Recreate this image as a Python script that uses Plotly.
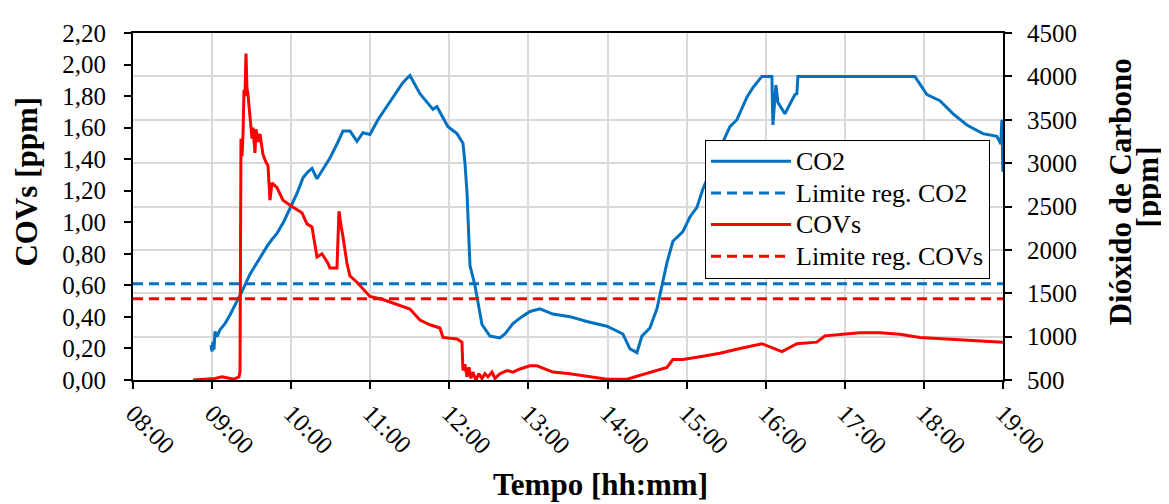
import pandas as pd
import plotly.graph_objects as go

# ---------------- data ----------------
co2_time = ["08:59:10", "09:00:00", "09:00:40", "09:01:26", "09:02:12", "09:03:43", "09:06:00",
            "09:09:47", "09:13:34", "09:18:08", "09:23:26", "09:28:44", "09:34:00", "09:37:50",
            "09:41:38", "09:45:26", "09:49:13", "09:54:32", "09:59:05", "10:04:24", "10:08:57",
            "10:12:44", "10:15:46", "10:19:34", "10:24:07", "10:29:25", "10:34:44", "10:39:17",
            "10:44:36", "10:47:38", "10:49:54", "10:54:27", "10:59:45", "11:05:50", "11:12:40",
            "11:20:15", "11:24:48", "11:30:06", "11:37:41", "11:47:33", "11:50:35", "11:58:56",
            "12:05:46", "12:10:19", "12:11:50", "12:13:21", "12:15:38", "12:19:25", "12:24:44",
            "12:30:48", "12:38:23", "12:42:10", "12:48:14", "12:55:04", "13:01:08", "13:08:43",
            "13:18:34", "13:31:28", "13:44:22", "13:59:32", "14:11:40", "14:16:58", "14:22:17",
            "14:26:04", "14:32:08", "14:37:27", "14:42:00", "14:45:02", "14:49:35", "14:57:10",
            "15:02:29", "15:07:48", "15:12:20", "15:19:10", "15:26:45", "15:32:50", "15:38:08",
            "15:45:43", "15:50:16", "15:57:06", "16:04:41", "16:05:26", "16:07:43", "16:09:14",
            "16:14:32", "16:22:08", "16:23:39", "16:24:24", "17:53:07", "18:02:17", "18:12:08",
            "18:21:58", "18:32:35", "18:44:43", "18:55:20", "18:58:22", "18:59:08", "18:59:53"]
co2_ppm = [900, 830, 940, 850, 1060, 1000, 1080,
           1150, 1250, 1380, 1545, 1720, 1850, 1960,
           2040, 2120, 2190, 2330, 2470, 2650, 2830,
           2900, 2940, 2820, 2930, 3060, 3220, 3370,
           3370, 3300, 3250, 3350, 3330, 3500, 3650,
           3820, 3930, 4010, 3800, 3620, 3650, 3420,
           3340, 3230, 3000, 2670, 1820, 1590, 1140,
           1006, 985, 1030, 1150, 1230, 1290, 1320,
           1260, 1230, 1175, 1120, 1030, 860, 815,
           1006, 1100, 1320, 1620, 1850, 2100, 2210,
           2380, 2490, 2700, 2950, 3220, 3420, 3500,
           3760, 3870, 4000, 4000, 3440, 3900, 3700,
           3570, 3790, 3800, 4000, 4000, 3790, 3720,
           3570, 3440, 3340, 3310, 3220, 3500, 2900]

cov_time = ["08:45:30", "08:54:37", "09:02:12", "09:07:30", "09:12:04", "09:16:36", "09:20:24",
            "09:21:10", "09:21:55", "09:22:40", "09:23:26", "09:24:12", "09:24:57", "09:25:43",
            "09:26:28", "09:27:14", "09:28:45", "09:30:16", "09:31:01", "09:32:32", "09:33:18",
            "09:34:49", "09:36:20", "09:38:36", "09:40:53", "09:42:24", "09:43:55", "09:45:26",
            "09:49:13", "09:53:46", "10:00:36", "10:08:11", "10:11:58", "10:15:46", "10:19:34",
            "10:23:21", "10:27:54", "10:29:25", "10:34:44", "10:36:15", "10:37:46", "10:39:17",
            "10:42:19", "10:44:36", "10:49:54", "10:54:27", "10:59:45", "11:09:37", "11:20:15",
            "11:30:06", "11:37:41", "11:45:16", "11:52:51", "11:55:08", "12:05:46", "12:09:33",
            "12:10:19", "12:11:50", "12:13:21", "12:14:52", "12:16:22", "12:17:53", "12:20:10",
            "12:22:27", "12:24:44", "12:27:00", "12:29:17", "12:32:19", "12:34:35", "12:38:23",
            "12:43:41", "12:48:14", "12:53:33", "13:01:08", "13:06:27", "13:18:34", "13:31:28",
            "13:44:22", "13:59:32", "14:14:42", "14:24:33", "14:34:25", "14:45:02", "14:49:35",
            "14:57:10", "15:12:20", "15:25:14", "15:40:24", "15:57:06", "16:12:16", "16:23:39",
            "16:38:49", "16:44:53", "16:58:32", "17:11:26", "17:26:36", "17:41:46", "17:56:56",
            "18:17:25", "18:37:08", "18:59:53"]
cov_ppm = [0.00, 0.005, 0.01, 0.02, 0.01, 0.005, 0.02,
           0.05, 1.53, 1.42, 1.55, 1.84, 1.80, 2.07,
           1.85, 1.81, 1.67, 1.53, 1.60, 1.44, 1.59,
           1.51, 1.56, 1.43, 1.38, 1.36, 1.14, 1.25,
           1.22, 1.14, 1.10, 1.06, 0.99, 0.97, 0.78,
           0.80, 0.74, 0.71, 0.71, 1.07, 0.98, 0.91,
           0.74, 0.66, 0.62, 0.58, 0.53, 0.51, 0.48,
           0.45, 0.38, 0.35, 0.33, 0.27, 0.26, 0.24,
           0.06, 0.10, 0.02, 0.08, 0.01, 0.05, 0.00,
           0.04, 0.01, 0.04, 0.02, 0.05, 0.01, 0.04,
           0.06, 0.05, 0.07, 0.09, 0.09, 0.05, 0.04,
           0.025, 0.005, 0.005, 0.03, 0.05, 0.08, 0.13,
           0.13, 0.15, 0.17, 0.20, 0.23, 0.18, 0.23,
           0.24, 0.28, 0.29, 0.30, 0.30, 0.29, 0.27,
           0.26, 0.25, 0.24]

co2_limit = 1610      # ppm
cov_limit = 0.515     # ppm

x_range = ["08:00", "19:00"]

series_names = ["CO2", "Limite reg. CO2", "COVs", "Limite reg. COVs"]
x_title = "Tempo [hh:mm]"
y_left_title = "COVs [ppm]"
y_right_title = ["Dióxido de Carbono", "[ppm]"]

# ---------------- figure ----------------
DAY = "2000-01-01 "
def t(lst):
    return pd.to_datetime([DAY + s for s in lst])

BLUE = "#0070C0"
RED = "#FF0000"
FONT = "Liberation Serif"

# plot area in window pixels: x 133..1003, y 25..380 (page body has an 8px margin)
PX0, PX1, PY0, PY1 = 133, 1003, 25, 380
PW, PH = PX1 - PX0, PY1 - PY0
OFF = 8
def px(x):
    return (x - PX0) / PW
def py(y):
    return (PY1 - y) / PH

def leg(name):
    return '<span style="font-size:26px">' + name + "</span>"

fig = go.Figure()
fig.add_trace(go.Scatter(x=t(co2_time), y=co2_ppm, name=leg(series_names[0]), mode="lines",
                         line=dict(color=BLUE, width=3), yaxis="y"))
fig.add_trace(go.Scatter(x=t(x_range), y=[co2_limit, co2_limit], name=leg(series_names[1]), mode="lines",
                         line=dict(color=BLUE, width=3, dash="10px,6px"), yaxis="y"))
fig.add_trace(go.Scatter(x=t(cov_time), y=cov_ppm, name=leg(series_names[2]), mode="lines",
                         line=dict(color=RED, width=3), yaxis="y2"))
fig.add_trace(go.Scatter(x=t(x_range), y=[cov_limit, cov_limit], name=leg(series_names[3]), mode="lines",
                         line=dict(color=RED, width=3, dash="10px,6px"), yaxis="y2"))

axis_font = dict(family=FONT, size=25, color="black")
W, H = 1169 - OFF, 504 - OFF

fig.update_layout(
    width=W, height=H,
    margin=dict(l=PX0 - OFF, r=W - (PX1 - OFF), t=PY0 - OFF, b=H - (PY1 - OFF), pad=0),
    paper_bgcolor="white", plot_bgcolor="white",
    separators=",.",
    font=dict(family=FONT, color="black"),
    showlegend=True,
    legend=dict(x=px(705), y=py(134), xanchor="left", yanchor="top",
                bgcolor="white", bordercolor="black", borderwidth=1,
                font=dict(family=FONT, size=22, color="black"),
                itemwidth=80, tracegroupgap=0),
    xaxis=dict(type="date", range=list(t(x_range)), tickformat="%H:%M",
               dtick=3600000, tick0=t(x_range)[0], tickangle=45,
               showgrid=True, gridcolor="#d9d9d9", gridwidth=1.5,
               showline=True, linecolor="black", linewidth=2, mirror=True,
               ticks="outside", ticklen=7, tickcolor="black", tickwidth=1.5,
               tickfont=axis_font, ticklabelstandoff=0),
    yaxis=dict(side="right", range=[500, 4500], dtick=500, tickformat="d",
               showgrid=True, gridcolor="#d9d9d9", gridwidth=1.5, zeroline=False,
               showline=True, linecolor="black", linewidth=2,
               ticks="outside", ticklen=7, tickcolor="black", tickwidth=1.5,
               tickfont=axis_font, ticklabelstandoff=10),
    yaxis2=dict(overlaying="y", side="left", range=[0, 2.2], dtick=0.2, tickformat=".2f",
                showgrid=False, zeroline=False,
                showline=True, linecolor="black", linewidth=2,
                ticks="outside", ticklen=7, tickcolor="black", tickwidth=1.5,
                tickfont=axis_font, ticklabelstandoff=13),
)

title_font = dict(family=FONT, size=31, color="black")
fig.add_annotation(text="<b>" + x_title + "</b>", xref="paper", yref="paper",
                   x=px(600), y=py(487), xanchor="center", yanchor="middle",
                   showarrow=False, font=title_font)
fig.add_annotation(text="<b>" + y_left_title + "</b>", xref="paper", yref="paper",
                   x=px(27), y=py(177), xanchor="center", yanchor="middle",
                   textangle=-90, showarrow=False, font=title_font)
fig.add_annotation(text="<b>" + y_right_title[0] + "</b>", xref="paper", yref="paper",
                   x=px(1120), y=py(188), xanchor="center", yanchor="middle",
                   textangle=-90, showarrow=False, font=title_font)
fig.add_annotation(text="<b>" + y_right_title[1] + "</b>", xref="paper", yref="paper",
                   x=px(1147), y=py(183), xanchor="center", yanchor="middle",
                   textangle=-90, showarrow=False, font=title_font)

fig.write_html("out.html")
